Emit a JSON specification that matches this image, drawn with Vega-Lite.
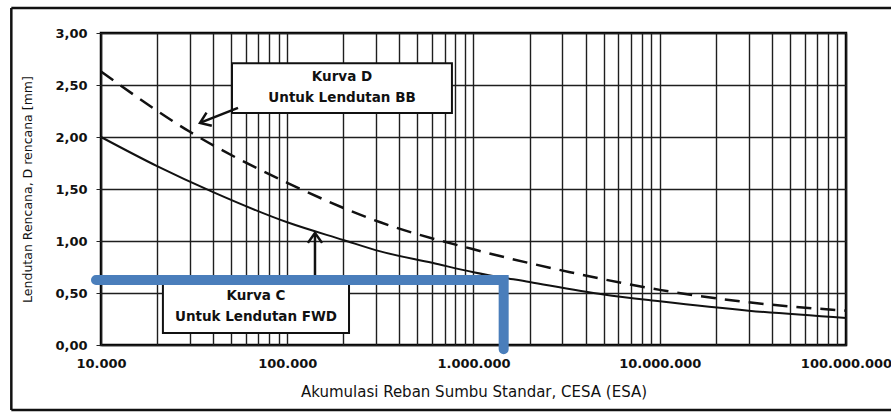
{
  "$schema": "https://vega.github.io/schema/vega-lite/v6.json",
  "width": 745,
  "height": 312,
  "autosize": {"type": "none"},
  "padding": {"left": 101, "top": 33, "right": 45, "bottom": 67},
  "background": "white",
  "config": {
    "locale": {"number": {"decimal": ",", "thousands": ".", "grouping": [3], "currency": ["", ""]}},
    "view": {"stroke": "black", "strokeWidth": 2.5},
    "font": "DejaVu Sans"
  },
  "datasets": {
    "curveC": [
      {"x": 10000, "y": 2.00},
      {"x": 20000, "y": 1.72},
      {"x": 40000, "y": 1.47},
      {"x": 100000, "y": 1.18},
      {"x": 200000, "y": 1.01},
      {"x": 316000, "y": 0.90},
      {"x": 600000, "y": 0.79},
      {"x": 1000000, "y": 0.70},
      {"x": 2000000, "y": 0.605},
      {"x": 5000000, "y": 0.485},
      {"x": 10000000, "y": 0.42},
      {"x": 30000000, "y": 0.33},
      {"x": 100000000, "y": 0.26}
    ],
    "curveD": [
      {"x": 10000, "y": 2.63},
      {"x": 30000, "y": 2.05},
      {"x": 100000, "y": 1.56},
      {"x": 316000, "y": 1.18},
      {"x": 1000000, "y": 0.92},
      {"x": 3300000, "y": 0.70},
      {"x": 10000000, "y": 0.53},
      {"x": 30000000, "y": 0.41},
      {"x": 100000000, "y": 0.33}
    ],
    "blue": [
      {"x": 9400, "y": 0.625, "i": 0},
      {"x": 1452000, "y": 0.625, "i": 1},
      {"x": 1452000, "y": -0.04, "i": 2}
    ],
    "frame": [
      {"x": 3300, "x2": 185000000, "y": 3.24, "y2": 3.24},
      {"x": 3300, "x2": 3300, "y": 3.24, "y2": -0.625},
      {"x": 3300, "x2": 185000000, "y": -0.625, "y2": -0.625}
    ],
    "boxes": [
      {"x": 50500, "x2": 766000, "y": 2.71, "y2": 2.23},
      {"x": 21500, "x2": 214600, "y": 0.64, "y2": 0.115}
    ],
    "shafts": [
      {"x": 54400, "y": 2.28, "x2": 34500, "y2": 2.14},
      {"x": 140900, "y": 0.66, "x2": 140900, "y2": 1.07}
    ],
    "headD": [{"x": 34000, "y": 2.135}],
    "headC": [{"x": 140900, "y": 1.077}],
    "labels": [
      {"x": 196800, "y": 2.58, "t": "Kurva D"},
      {"x": 196800, "y": 2.375, "t": "Untuk Lendutan BB"},
      {"x": 67950, "y": 0.47, "t": "Kurva C"},
      {"x": 67950, "y": 0.27, "t": "Untuk Lendutan FWD"}
    ]
  },
  "encoding": {
    "x": {
      "field": "x",
      "type": "quantitative",
      "scale": {"type": "log", "domain": [10000, 100000000], "nice": false},
      "axis": {
        "title": "Akumulasi Reban Sumbu Standar, CESA (ESA)",
        "values": [10000, 20000, 30000, 40000, 50000, 60000, 70000, 80000, 90000,
                   100000, 200000, 300000, 400000, 500000, 600000, 700000, 800000, 900000,
                   1000000, 2000000, 3000000, 4000000, 5000000, 6000000, 7000000, 8000000, 9000000,
                   10000000, 20000000, 30000000, 40000000, 50000000, 60000000, 70000000, 80000000, 90000000,
                   100000000],
        "format": ",d",
        "labelExpr": "indexof([10000, 100000, 1000000, 10000000, 100000000], datum.value) >= 0 ? datum.label : ''",
        "labelOverlap": false,
        "labelFlush": false,
        "grid": true,
        "gridColor": "#1e1e1e",
        "gridWidth": 1.4,
        "ticks": false,
        "domain": false,
        "labelFont": "DejaVu Sans",
        "labelFontSize": 13,
        "labelFontWeight": "bold",
        "labelColor": "#111",
        "labelPadding": 12,
        "titleFont": "DejaVu Sans",
        "titleFontSize": 15,
        "titleFontWeight": "normal",
        "titleColor": "#111",
        "titlePadding": 14
      }
    },
    "y": {
      "field": "y",
      "type": "quantitative",
      "scale": {"domain": [0, 3], "nice": false, "zero": false},
      "axis": {
        "title": "Lendutan Rencana, D rencana [mm]",
        "values": [0, 0.5, 1, 1.5, 2, 2.5, 3],
        "format": ".2f",
        "grid": true,
        "gridColor": "#1e1e1e",
        "gridWidth": 1.4,
        "ticks": true,
        "tickSize": 5,
        "tickColor": "#222",
        "domain": false,
        "labelFont": "DejaVu Sans",
        "labelFontSize": 13,
        "labelFontWeight": "bold",
        "labelColor": "#111",
        "labelPadding": 9,
        "titleFont": "DejaVu Sans",
        "titleFontSize": 12.5,
        "titleFontWeight": "normal",
        "titleColor": "#111",
        "titlePadding": 20
      }
    }
  },
  "layer": [
    {
      "data": {"name": "frame"},
      "mark": {"type": "rule", "color": "#111", "strokeWidth": 2.5, "clip": false},
      "encoding": {"x2": {"field": "x2"}, "y2": {"field": "y2"}}
    },
    {
      "data": {"name": "curveC"},
      "mark": {"type": "line", "color": "#111", "strokeWidth": 2, "interpolate": "monotone"},
      "encoding": {}
    },
    {
      "data": {"name": "curveD"},
      "mark": {"type": "line", "color": "#111", "strokeWidth": 2.5, "strokeDash": [15, 9], "interpolate": "monotone"},
      "encoding": {}
    },
    {
      "data": {"name": "boxes"},
      "mark": {"type": "rect", "fill": "white", "stroke": "#111", "strokeWidth": 2},
      "encoding": {"x2": {"field": "x2"}, "y2": {"field": "y2"}}
    },
    {
      "data": {"name": "shafts"},
      "mark": {"type": "rule", "color": "#111", "strokeWidth": 2.5},
      "encoding": {"x2": {"field": "x2"}, "y2": {"field": "y2"}}
    },
    {
      "data": {"name": "headD"},
      "mark": {"type": "point", "shape": "M-1,1.4L0,0L1,1.4", "filled": false, "stroke": "#111", "strokeWidth": 2.5, "size": 200, "angle": 248, "opacity": 1},
      "encoding": {}
    },
    {
      "data": {"name": "headC"},
      "mark": {"type": "point", "shape": "M-1,1.4L0,0L1,1.4", "filled": false, "stroke": "#111", "strokeWidth": 2.5, "size": 200, "angle": 0, "opacity": 1},
      "encoding": {}
    },
    {
      "data": {"name": "labels"},
      "mark": {"type": "text", "font": "DejaVu Sans", "fontSize": 13.5, "fontWeight": "bold", "color": "#111", "align": "center", "baseline": "middle"},
      "encoding": {"text": {"field": "t"}}
    },
    {
      "data": {"name": "blue"},
      "mark": {"type": "line", "color": "#4a7ebb", "strokeWidth": 10, "strokeCap": "round", "strokeJoin": "miter", "clip": false},
      "encoding": {"order": {"field": "i"}}
    }
  ]
}
